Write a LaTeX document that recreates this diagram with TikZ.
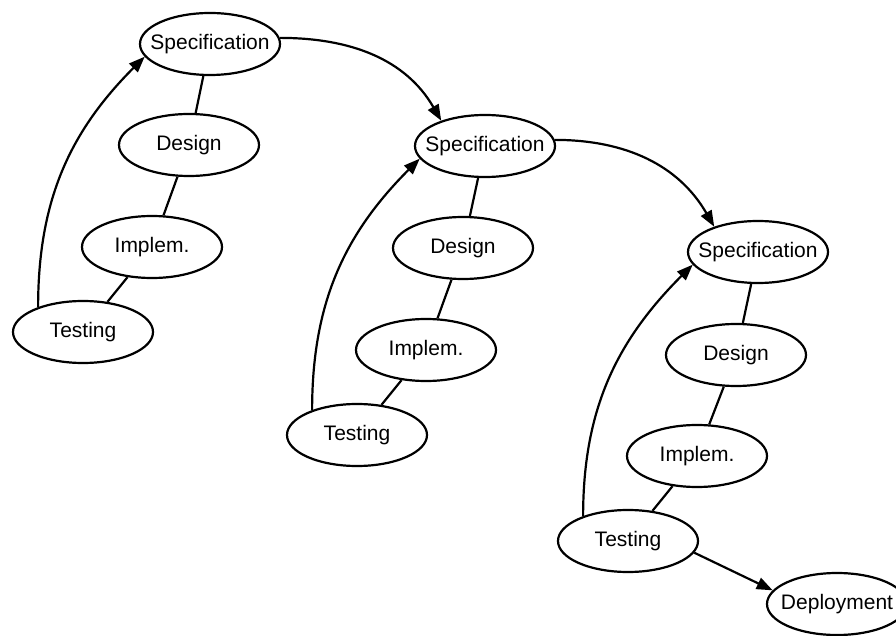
\documentclass[tikz,border=0pt]{standalone}
\usepackage{fontspec}
\setmainfont{Liberation Sans}
\usetikzlibrary{shapes.geometric,arrows.meta}

\begin{document}
\begin{tikzpicture}[x=1pt,y=1pt,
  phase/.style={ellipse, draw=black, line width=2.2pt, fill=white,
    minimum width=140pt, minimum height=62pt, inner sep=0pt,
    font=\fontsize{21}{24}\selectfont},
  link/.style={line width=2.2pt},
  flow/.style={line width=2.2pt, -{Triangle[length=16pt,width=12pt]}}]

\useasboundingbox (0,0) rectangle (896,635);

% the label is centred in a zero-width box so every ellipse keeps one size
\newcommand{\lbl}[1]{\makebox[0pt]{#1}}

% first cycle
\node[phase] (s1) at (210,591) {\lbl{Specification}};
\node[phase] (d1) at (189,490) {\lbl{Design}};
\node[phase] (i1) at (152,388) {\lbl{Implem.}};
\node[phase] (t1) at (83,303)  {\lbl{Testing}};

% second cycle
\node[phase] (s2) at (485,489) {\lbl{Specification}};
\node[phase] (d2) at (463,387) {\lbl{Design}};
\node[phase] (i2) at (426,285) {\lbl{Implem.}};
\node[phase] (t2) at (357,200) {\lbl{Testing}};

% third cycle
\node[phase] (s3) at (758,383) {\lbl{Specification}};
\node[phase] (d3) at (736,280) {\lbl{Design}};
\node[phase] (i3) at (697,179) {\lbl{Implem.}};
\node[phase] (t3) at (628,94)  {\lbl{Testing}};

\node[phase] (dep) at (837,31) {\lbl{Deployment}};

% phase links inside each cycle
\foreach \c in {1,2,3}{
  \draw[link] (s\c) -- (d\c);
  \draw[link] (d\c) -- (i\c);
  \draw[link] (i\c) -- (t\c);
  \draw[flow] (t\c.151) to[out=90,in=225] (s\c.191);
}

% transitions between cycles
\draw[flow] (s1.5) to[out=0,in=120] (s2.150);
\draw[flow] (s2.5) to[out=0,in=120] (s3.150);
\draw[flow] (t3.-10) -- (dep.168);

\end{tikzpicture}
\end{document}
